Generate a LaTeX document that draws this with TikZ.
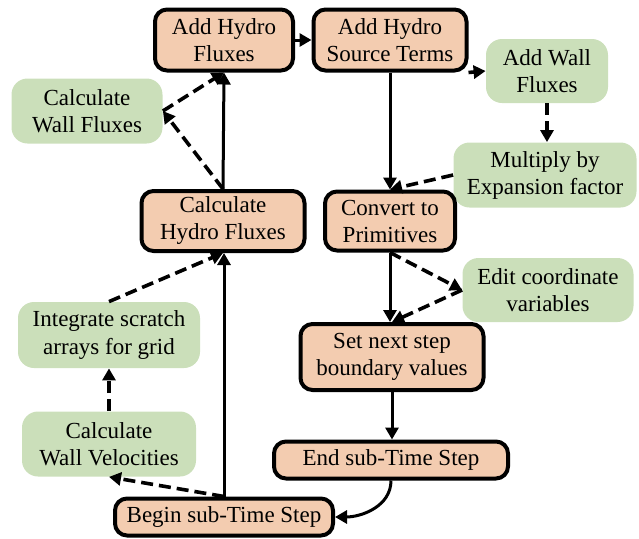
\documentclass[tikz,border=0pt]{standalone}
\usepackage{fontspec}
\setmainfont{Liberation Serif}
\usetikzlibrary{arrows.meta}
\definecolor{stepfill}{RGB}{243,204,176}
\definecolor{wallfill}{RGB}{203,223,186}

\begin{document}
\begin{tikzpicture} [x=0.5pt, y=0.5pt,
                every node/.style={align=center, inner sep=2pt, font=\fontsize{11.5}{13.5}\selectfont},
                step box/.style={draw, line width=2pt, rounded corners=6pt, fill=stepfill, minimum height=30.5pt},
                wall box/.style={fill=wallfill, rounded corners=8pt, minimum height=32.5pt}]
                \tikzset{flow/.style={line width=1.5pt, -{Triangle[length=6pt,width=6.5pt]}},
                         wall flow/.style={flow, line width=1.8pt, dash pattern=on 6pt off 3pt}}
                \useasboundingbox (0,0) rectangle (639,538);
                \node [step box, minimum width=69pt] (addfluxes) at (224,498) {Add Hydro\\Fluxes};
                \node [step box, minimum width=76.5pt] (addsource) at (390,498) {Add Hydro\\Source Terms};
                \node [wall box, minimum width=61pt, minimum height=32pt] (addwall) at (547,467) {Add Wall\\Fluxes};
                \node [wall box, minimum width=75.5pt] (calcwall) at (87,427) {Calculate\\Wall Fluxes};
                \node [step box, minimum width=81.5pt, minimum height=30pt] (calcfluxes) at (223,317) {Calculate\\Hydro Fluxes};
                \node [wall box, minimum width=91.5pt] (multiply) at (545,363) {Multiply by\\Expansion factor};
                \node [step box, minimum width=65pt, minimum height=29.5pt] (convert) at (390,317) {Convert to\\Primitives};
                \node [wall box, minimum width=85.5pt, minimum height=32pt] (editcoord) at (548,248) {Edit coordinate\\variables};
                \node [wall box, minimum width=91pt, minimum height=33pt] (integrate) at (109,203) {Integrate scratch\\arrays for grid};
                \node [step box, minimum width=91.5pt, minimum height=33pt] (setnext) at (392,181) {Set next step\\boundary values};
                \node [wall box, minimum width=87pt] (wallvel) at (109,94) {Calculate\\Wall Velocities};
                \node [step box, minimum width=117pt, minimum height=18.5pt] (endstep) at (391,78) {End sub-Time Step};
                \node [step box, minimum width=109pt, minimum height=18.5pt] (beginstep) at (224,21) {Begin sub-Time Step};
                \draw [flow] (addfluxes) -- (addsource);
                \draw [flow] (addsource.south) -- (convert.north);
                \draw [wall flow] (addsource.south east) -- (addwall.west);
                \draw [wall flow] (addwall.south) -- (addwall.south |- multiply.north);
                \draw [wall flow] (multiply.west) -- (convert.north);
                \draw [flow] (convert.south) -- (convert.south |- setnext.north);
                \draw [wall flow] (convert.south) -- (editcoord.west);
                \draw [wall flow] (editcoord.west) -- (setnext.north);
                \draw [flow] (setnext.south) -- (setnext.south |- endstep.north);
                \draw [flow] (endstep.south) to [out=-90, in=0] (beginstep.east);
                \draw [flow] (beginstep.north) -- (beginstep.north |- calcfluxes.south);
                \draw [wall flow] (beginstep.north) -- (wallvel.south);
                \draw [wall flow] (wallvel.north) -- (integrate.south);
                \draw [wall flow] (integrate.north) -- (calcfluxes.south);
                \draw [flow] (calcfluxes.north) -- (addfluxes.south);
                \draw [wall flow] (calcfluxes.north) -- (calcwall.east);
                \draw [wall flow] (calcwall.east) -- (addfluxes.south);
            \end{tikzpicture}
\end{document}
